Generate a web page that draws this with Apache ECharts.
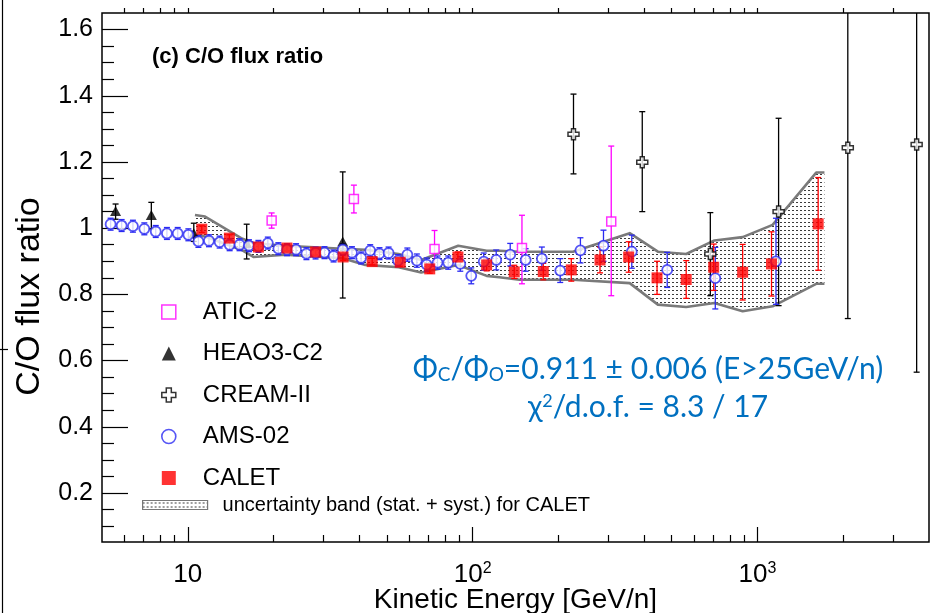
<!DOCTYPE html>
<html>
<head>
<meta charset="utf-8">
<script src="https://cdn.jsdelivr.net/npm/echarts@6/dist/echarts.min.js"></script>
<style>
  html, body { margin: 0; padding: 0; background: #fff; }
  #chart { width: 932px; height: 613px; }
</style>
</head>
<body>
<div id="chart"></div>
<script>
// ---------- C/O flux ratio measurements (kinetic energy in GeV/n) ----------
const amsEnergy = [5.36, 5.86, 6.42, 7.04, 7.72, 8.45, 9.22, 10.05, 10.9, 11.87, 12.94, 14.03, 15.2, 16.4, 17.7, 19.1, 20.8, 22.3, 24.0, 26.1, 28.1, 30.2, 32.5, 35.0, 37.7, 40.6, 43.7, 47.1, 50.7, 54.7, 59.0, 63.7, 69.0, 75.3, 82.1, 90.5, 98.9, 109.4, 121, 135.5, 153.5, 175, 203, 239, 288, 362, 482, 711, 1161];
const amsRatio = [1.012, 1.008, 1.006, 0.998, 0.990, 0.984, 0.984, 0.980, 0.960, 0.962, 0.958, 0.950, 0.950, 0.947, 0.945, 0.955, 0.938, 0.935, 0.935, 0.923, 0.925, 0.926, 0.916, 0.935, 0.926, 0.910, 0.932, 0.923, 0.925, 0.902, 0.920, 0.902, 0.890, 0.896, 0.896, 0.892, 0.856, 0.899, 0.904, 0.920, 0.904, 0.908, 0.872, 0.933, 0.947, 0.929, 0.874, 0.849, 0.900];
const amsError = [0.018, 0.018, 0.018, 0.018, 0.018, 0.018, 0.018, 0.018, 0.018, 0.018, 0.018, 0.018, 0.018, 0.018, 0.018, 0.018, 0.018, 0.018, 0.018, 0.018, 0.018, 0.018, 0.018, 0.018, 0.018, 0.018, 0.018, 0.018, 0.018, 0.018, 0.020, 0.020, 0.020, 0.020, 0.020, 0.022, 0.024, 0.026, 0.030, 0.034, 0.034, 0.035, 0.036, 0.038, 0.047, 0.050, 0.053, 0.093, 0.130];

const caletEnergy = [11.2, 14.0, 17.7, 22.3, 28.1, 35.1, 44.4, 55.7, 70.7, 88.8, 112, 140, 177, 222, 280, 353, 444, 562, 702, 887, 1120, 1633];
const caletRatio = [0.997, 0.970, 0.943, 0.940, 0.928, 0.913, 0.899, 0.897, 0.877, 0.913, 0.889, 0.868, 0.869, 0.874, 0.904, 0.913, 0.850, 0.845, 0.882, 0.867, 0.892, 1.013];
const caletError = [0.010, 0.010, 0.010, 0.010, 0.010, 0.010, 0.010, 0.012, 0.013, 0.015, 0.018, 0.020, 0.025, 0.034, 0.039, 0.046, 0.050, 0.057, 0.070, 0.084, 0.097, 0.140];

const heaoEnergy = [5.58, 7.45, 10.5, 16.1, 35.0];
const heaoRatio = [1.052, 1.040, 0.985, 0.955, 0.960];
const heaoLow = [1.027, 0.998, 0.960, 0.907, 0.789];
const heaoHigh = [1.073, 1.078, 1.015, 1.012, 1.170];

const creamEnergy = [226, 394, 683, 1186, 2075, 3620];
const creamRatio = [1.284, 1.199, 0.922, 1.050, 1.243, 1.253];
const creamLow = [1.164, 1.050, 0.796, 0.766, 0.727, 0.565];
const creamHigh = [1.405, 1.352, 1.047, 1.332, 1.760, 1.940];

const aticEnergy = [19.7, 38.3, 73.5, 149, 306.6];
const aticRatio = [1.023, 1.088, 0.937, 0.940, 1.020];
const aticLow = [1.000, 1.046, 0.885, 0.832, 0.796];
const aticHigh = [1.046, 1.130, 0.993, 1.039, 1.248];

// CALET stat. + syst. uncertainty band
const bandEnergy = [10.6, 11.5, 15.4, 17.0, 22.0, 35.0, 42.0, 55.0, 66.0, 89.0, 112, 124, 146, 225, 356, 447, 562, 706, 887, 1130, 1607, 1718];
const bandUpper = [1.040, 1.035, 0.970, 0.955, 0.947, 0.938, 0.935, 0.922, 0.904, 0.947, 0.932, 0.932, 0.929, 0.929, 0.985, 0.929, 0.922, 0.963, 0.973, 1.010, 1.168, 1.168];
const bandLower = [0.980, 0.975, 0.935, 0.913, 0.920, 0.909, 0.889, 0.882, 0.866, 0.889, 0.856, 0.852, 0.844, 0.844, 0.834, 0.769, 0.762, 0.774, 0.749, 0.764, 0.832, 0.832];

// Axis ticks
const xMajorTicks = [10, 100, 1000];
const xMinorTicks = [6, 7, 8, 9, 20, 30, 40, 50, 60, 70, 80, 90, 200, 300, 400, 500, 600, 700, 800, 900, 2000, 3000];
const yMajorTicks = [0.2, 0.4, 0.6, 0.8, 1.0, 1.2, 1.4, 1.6];
const yMinorTicks = [0.1, 0.15, 0.25, 0.3, 0.35, 0.45, 0.5, 0.55, 0.65, 0.7, 0.75, 0.85, 0.9, 0.95, 1.05, 1.1, 1.15, 1.25, 1.3, 1.35, 1.45, 1.5, 1.55];

const legendNames = ['ATIC-2', 'HEAO3-C2', 'CREAM-II', 'AMS-02', 'CALET'];
const bandName = 'uncertainty band (stat. + syst.) for CALET';

// ---------- styling ----------
const FONT = 'Liberation Sans, Arial, Helvetica, sans-serif';
const BLUE_FONT = 'Lato, Noto Sans, sans-serif';
const X_MIN = 5, X_MAX = 4000, Y_MIN = 0.052, Y_MAX = 1.65;
const C_ATIC = '#ff00ff', C_AMS = '#2a2af2', C_CALET = '#ff0000', C_BLACK = '#000000';
const CROSS = 'path://M3.2,0 H6.8 V3.2 H10 V6.8 H6.8 V10 H3.2 V6.8 H0 V3.2 H3.2 Z';

// dotted fill for the uncertainty band
const dotTile = document.createElement('canvas');
dotTile.width = 4; dotTile.height = 4;
(function () {
  const g = dotTile.getContext('2d');
  g.fillStyle = '#ffffff'; g.fillRect(0, 0, 4, 4);
  g.fillStyle = '#3c3c3c'; g.fillRect(0, 2, 2, 1);
})();
const dotPattern = { image: dotTile, repeat: 'repeat' };

function pairs(xs, ys) { return xs.map((x, i) => [x, ys[i]]); }
function symBars(xs, ys, err) { return xs.map((x, i) => [x, ys[i] - err[i], ys[i] + err[i]]); }
function asymBars(xs, lo, hi) { return xs.map((x, i) => [x, lo[i], hi[i]]); }

function errorBars(color, cap, width) {
  return function (params, api) {
    const x = api.value(0), lo = api.value(1), hi = api.value(2);
    const cs = params.coordSys;
    const top = api.coord([x, hi]);
    const bot = api.coord([x, lo]);
    const yTop = Math.max(top[1], cs.y);
    const yBot = Math.min(bot[1], cs.y + cs.height);
    const st = { stroke: color, lineWidth: width };
    const kids = [{ type: 'line', shape: { x1: top[0], y1: yTop, x2: top[0], y2: yBot }, style: st }];
    if (top[1] >= cs.y) kids.push({ type: 'line', shape: { x1: top[0] - cap, y1: top[1], x2: top[0] + cap, y2: top[1] }, style: st });
    if (bot[1] <= cs.y + cs.height) kids.push({ type: 'line', shape: { x1: bot[0] - cap, y1: bot[1], x2: bot[0] + cap, y2: bot[1] }, style: st });
    return { type: 'group', children: kids };
  };
}

function barSeries(data, color, cap, width) {
  return {
    type: 'custom', data: data, encode: { x: 0, y: [1, 2] },
    renderItem: errorBars(color, cap, width), silent: true, z: 3
  };
}

function logX(extra) {
  return Object.assign({
    type: 'log', logBase: 10, min: X_MIN, max: X_MAX, gridIndex: 0,
    splitLine: { show: false }, minorTick: { show: false }, minorSplitLine: { show: false },
    axisLine: { show: false, onZero: false }, axisLabel: { show: false }, axisTick: { show: false }
  }, extra);
}
function linY(extra) {
  return Object.assign({
    type: 'value', min: Y_MIN, max: Y_MAX, gridIndex: 0,
    splitLine: { show: false }, minorTick: { show: false },
    axisLine: { show: false, onZero: false }, axisLabel: { show: false }, axisTick: { show: false }
  }, extra);
}

const chart = echarts.init(document.getElementById('chart'));

chart.setOption({
  animation: false,
  backgroundColor: '#ffffff',
  grid: {
    left: 102, top: 13, right: 3, bottom: 71, containLabel: false, outerBoundsMode: 'none',
    show: true, borderColor: '#000', borderWidth: 1.5, backgroundColor: 'transparent'
  },
  title: {
    text: '(c) C/O flux ratio', left: 152, top: 46, padding: 0,
    textStyle: { fontFamily: FONT, fontWeight: 'bold', fontSize: 22, color: '#000' }
  },
  xAxis: [
    logX({
      position: 'bottom',
      axisTick: { show: true, inside: true, length: 15, customValues: xMajorTicks, lineStyle: { color: '#000', width: 1.2 } },
      axisLabel: {
        show: true, customValues: xMajorTicks, margin: 19,
        formatter: function (v) {
          const p = Math.round(Math.log10(v));
          return p === 1 ? '{b|10}' : '{b|10}{s|' + p + '}';
        },
        rich: {
          b: { fontFamily: FONT, fontSize: 26, color: '#000', lineHeight: 28 },
          s: { fontFamily: FONT, fontSize: 16, color: '#000', verticalAlign: 'top', lineHeight: 16 }
        }
      },
      name: 'Kinetic Energy [GeV/n]', nameLocation: 'middle', nameGap: 44, nameMoveOverlap: false,
      nameTextStyle: { fontFamily: FONT, fontSize: 28, color: '#000' }
    }),
    logX({
      position: 'bottom',
      axisTick: { show: true, inside: true, length: 7, customValues: xMinorTicks, lineStyle: { color: '#000', width: 1.2 } }
    }),
    logX({
      position: 'top',
      axisTick: { show: true, inside: false, length: 5, customValues: xMajorTicks.concat(xMinorTicks), lineStyle: { color: '#000', width: 1.2 } }
    })
  ],
  yAxis: [
    linY({
      position: 'left',
      axisTick: { show: true, inside: true, length: 26, customValues: yMajorTicks, lineStyle: { color: '#000', width: 1.2 } },
      axisLabel: {
        show: true, customValues: yMajorTicks, margin: 9,
        fontFamily: FONT, fontSize: 25, color: '#000',
        formatter: function (v) { return Math.abs(v - 1) < 1e-9 ? '1' : String(v); }
      },
      name: 'C/O flux ratio', nameLocation: 'middle', nameGap: 55, nameMoveOverlap: false,
      nameTextStyle: { fontFamily: FONT, fontSize: 34, color: '#000', padding: [0, 38, 0, 0] }
    }),
    linY({
      position: 'left',
      axisTick: { show: true, inside: true, length: 12, customValues: yMinorTicks, lineStyle: { color: '#000', width: 1.2 } }
    })
  ],
  legend: [
    {
      orient: 'vertical', left: 156, top: 295, itemWidth: 14, itemHeight: 14, itemGap: 17.5,
      selectedMode: false,
      textStyle: { fontFamily: FONT, fontSize: 24, color: '#000', lineHeight: 24, padding: [0, 0, 0, 22] },
      data: [
        { name: legendNames[0], icon: 'rect', itemStyle: { color: '#fff', borderColor: C_ATIC, borderWidth: 1.5 } },
        { name: legendNames[1], icon: 'triangle', itemStyle: { color: C_BLACK, borderWidth: 0 } },
        { name: legendNames[2], icon: CROSS, itemStyle: { color: '#fff', borderColor: C_BLACK, borderWidth: 1.5 } },
        { name: legendNames[3], icon: 'circle', itemStyle: { color: '#fff', borderColor: C_AMS, borderWidth: 1.6 } },
        { name: legendNames[4], icon: 'rect', itemStyle: { color: C_CALET, borderWidth: 0 } }
      ]
    },
    {
      orient: 'vertical', left: 137, top: 490, itemWidth: 65, itemHeight: 9,
      selectedMode: false,
      textStyle: { fontFamily: FONT, fontSize: 20, color: '#000', lineHeight: 20, padding: [0, 0, 0, 10] },
      data: [{ name: bandName, icon: 'rect', itemStyle: { color: dotPattern, borderColor: '#777', borderWidth: 1.2 } }]
    }
  ],
  graphic: [
    // page frame edge on the left
    { type: 'line', silent: true, shape: { x1: 2.5, y1: 0, x2: 2.5, y2: 613 }, style: { stroke: '#000', lineWidth: 1.2 } },
    { type: 'line', silent: true, shape: { x1: 0, y1: 349.5, x2: 8, y2: 349.5 }, style: { stroke: '#000', lineWidth: 1.2 } },
    // fit result
    {
      type: 'text', x: 648, y: 372, silent: true,
      style: {
        text: '{t|Φ}{d|C}{t|/Φ}{d|O}{t|=0.911 ± 0.006 (E>25GeV/n)}',
        align: 'center', verticalAlign: 'middle',
        rich: {
          t: { fontFamily: BLUE_FONT, fontSize: 30, fill: '#0070c0', lineHeight: 36, verticalAlign: 'top' },
          d: { fontFamily: BLUE_FONT, fontSize: 19, fill: '#0070c0', lineHeight: 36, verticalAlign: 'top', padding: [11, 0, 0, 0] }
        }
      }
    },
    {
      type: 'text', x: 648, y: 410, silent: true,
      style: {
        text: '{t|χ}{u|2}{t|/d.o.f. = 8.3 / 17}',
        align: 'center', verticalAlign: 'middle',
        rich: {
          t: { fontFamily: BLUE_FONT, fontSize: 30, fill: '#0070c0', lineHeight: 36, verticalAlign: 'top' },
          u: { fontFamily: BLUE_FONT, fontSize: 18, fill: '#0070c0', lineHeight: 22, verticalAlign: 'top' }
        }
      }
    }
  ],
  series: [
    {
      name: bandName, type: 'custom', silent: true, z: 2,
      data: bandEnergy.map((e, i) => [e, bandLower[i], bandUpper[i]]),
      encode: { x: 0, y: [1, 2] },
      itemStyle: { color: dotPattern },
      renderItem: function (params, api) {
        if (params.dataIndex !== 0) return null;
        const up = bandEnergy.map((e, i) => api.coord([e, bandUpper[i]]));
        const lo = bandEnergy.map((e, i) => api.coord([e, bandLower[i]]));
        const edge = { stroke: '#7a7a7a', lineWidth: 2.6, fill: null, lineJoin: 'round' };
        return {
          type: 'group', children: [
            { type: 'polygon', shape: { points: up.concat(lo.slice().reverse()) }, style: { fill: dotPattern, stroke: null } },
            { type: 'polyline', shape: { points: up }, style: edge },
            { type: 'polyline', shape: { points: lo }, style: edge }
          ]
        };
      }
    },
    barSeries(asymBars(aticEnergy, aticLow, aticHigh), C_ATIC, 3, 1.3),
    {
      name: legendNames[0], type: 'scatter', data: pairs(aticEnergy, aticRatio), z: 4,
      symbol: 'rect', symbolSize: 9, itemStyle: { color: '#fff', borderColor: C_ATIC, borderWidth: 1.5 }
    },
    barSeries(asymBars(heaoEnergy, heaoLow, heaoHigh), C_BLACK, 3, 1.3),
    {
      name: legendNames[1], type: 'scatter', data: pairs(heaoEnergy, heaoRatio), z: 4,
      symbol: 'triangle', symbolSize: [11, 10], itemStyle: { color: C_BLACK }
    },
    barSeries(asymBars(creamEnergy, creamLow, creamHigh), C_BLACK, 3, 1.3),
    {
      name: legendNames[2], type: 'scatter', data: pairs(creamEnergy, creamRatio), z: 4,
      symbol: CROSS, symbolSize: 11, itemStyle: { color: '#fff', borderColor: C_BLACK, borderWidth: 1.5 }
    },
    barSeries(symBars(amsEnergy, amsRatio, amsError), C_AMS, 3, 1.3),
    {
      name: legendNames[3], type: 'scatter', data: pairs(amsEnergy, amsRatio), z: 4,
      symbol: 'circle', symbolSize: 10, itemStyle: { color: '#fff', borderColor: C_AMS, borderWidth: 1.8 }
    },
    barSeries(symBars(caletEnergy, caletRatio, caletError), C_CALET, 3, 1.3),
    {
      name: legendNames[4], type: 'scatter', data: pairs(caletEnergy, caletRatio), z: 5,
      symbol: 'rect', symbolSize: 11, itemStyle: { color: C_CALET }
    }
  ]
});
</script>
</body>
</html>
